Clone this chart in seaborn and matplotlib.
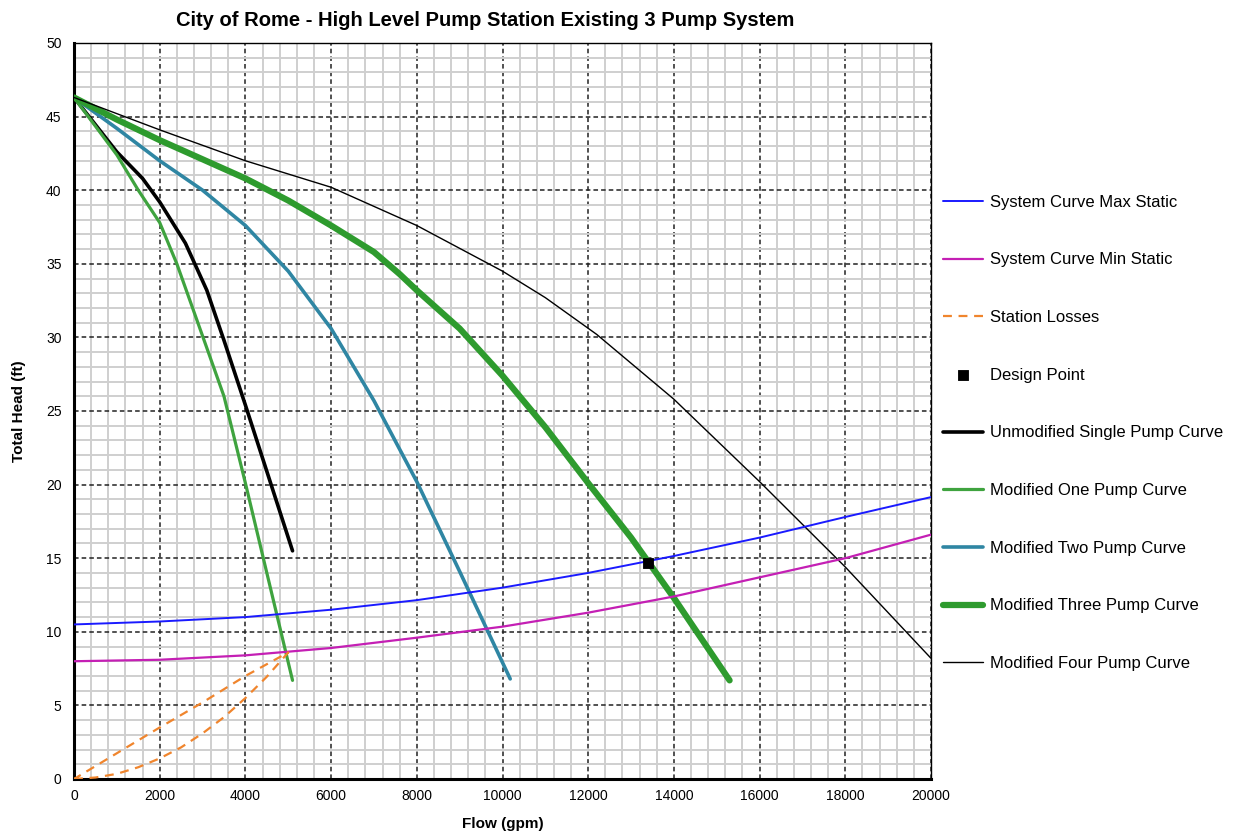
import numpy as np
import pandas as pd
import matplotlib
matplotlib.use("Agg")
import matplotlib.pyplot as plt
import seaborn as sns
from matplotlib.ticker import MultipleLocator

# Datos (caudal en gpm, altura en ft)
sys_x = [0, 2000, 4000, 6000, 8000, 10000, 12000, 14000, 16000, 18000, 20000]
sys_max_y = [10.5, 10.7, 11.0, 11.5, 12.15, 13.0, 14.0, 15.15, 16.4, 17.8, 19.15]
sys_min_y = [8.0, 8.1, 8.4, 8.9, 9.6, 10.35, 11.3, 12.4, 13.7, 15.0, 16.6]

losses_x = [0, 500, 1000, 1500, 2000, 2500, 3000, 3500, 4000, 4500, 5000,
            4000, 3000, 2000, 1000, 0]
losses_y = [0, 0.1, 0.35, 0.8, 1.4, 2.15, 3.1, 4.2, 5.5, 6.95, 8.6,
            7.0, 5.2, 3.5, 1.75, 0]

design_x = [13400]
design_y = [14.7]

single_x = [0, 1000, 1600, 2000, 2600, 3100, 3500, 4000, 4600, 5100]
single_y = [46.3, 42.6, 40.8, 39.2, 36.4, 33.2, 29.8, 25.4, 20.0, 15.5]

one_x = [0, 1000, 1500, 2000, 2400, 3000, 3500, 4000, 4500, 5100]
one_y = [46.3, 42.4, 40.0, 37.8, 35.0, 30.1, 26.0, 20.1, 14.0, 6.7]

two_x = [0, 1000, 2000, 3000, 4000, 5000, 6000, 7000, 8000, 9000, 10180]
two_y = [46.3, 44.2, 42.0, 40.0, 37.6, 34.5, 30.6, 25.7, 20.2, 14.1, 6.8]

three_x = [0, 1000, 2000, 3000, 4000, 5000, 6000, 7000, 7600, 8000, 9000,
           10000, 11000, 12000, 13000, 14000, 15300]
three_y = [46.3, 44.8, 43.4, 42.1, 40.8, 39.3, 37.6, 35.8, 34.3, 33.2, 30.6,
           27.4, 23.9, 20.1, 16.4, 12.3, 6.7]

four_x = [0, 2000, 4000, 6000, 8000, 10000, 11000, 12200, 14000, 16000, 18000, 20000]
four_y = [46.3, 44.1, 42.0, 40.2, 37.6, 34.5, 32.7, 30.2, 25.8, 20.2, 14.4, 8.2]

sns.set_style("white")
plt.rcParams['font.family'] = ['Liberation Sans', 'DejaVu Sans']
plt.rcParams['text.color'] = 'black'
plt.rcParams['axes.labelcolor'] = 'black'
plt.rcParams['xtick.color'] = 'black'
plt.rcParams['ytick.color'] = 'black'

fig = plt.figure(figsize=(12.34, 8.33), dpi=100)
ax = fig.add_axes([74 / 1234, 1 - 779 / 833, (931 - 74) / 1234, (779 - 43) / 833])


def linea(x, y, **kw):
    df = pd.DataFrame({'x': x, 'y': y})
    sns.lineplot(data=df, x='x', y='y', ax=ax, sort=False, estimator=None, **kw)


linea(sys_x, sys_max_y, color='#1a1aff', lw=1.4, label='System Curve Max Static', zorder=5)
linea(sys_x, sys_min_y, color='#c41fb4', lw=1.6, label='System Curve Min Static', zorder=5)
linea(losses_x, losses_y, color='#f0852d', lw=1.6, label='Station Losses', zorder=5)
ax.get_lines()[-1].set_dashes([4, 3])
sns.scatterplot(x=design_x, y=design_y, ax=ax, marker='s', s=60, color='black',
                edgecolor='black', label='Design Point', zorder=10)
linea(single_x, single_y, color='black', lw=2.6, label='Unmodified Single Pump Curve', zorder=4)
linea(one_x, one_y, color='#3fa33f', lw=2.3, label='Modified One Pump Curve', zorder=4)
linea(two_x, two_y, color='#2f86a3', lw=2.6, label='Modified Two Pump Curve', zorder=4)
linea(three_x, three_y, color='#2e9b2e', lw=4.5, label='Modified Three Pump Curve', zorder=4)
linea(four_x, four_y, color='black', lw=1.0, label='Modified Four Pump Curve', zorder=4)

ax.set_xlim(0, 20000)
ax.set_ylim(0, 50)
ax.xaxis.set_major_locator(MultipleLocator(2000))
ax.xaxis.set_minor_locator(MultipleLocator(400))
ax.yaxis.set_major_locator(MultipleLocator(5))
ax.yaxis.set_minor_locator(MultipleLocator(1))
ax.grid(which='minor', color='#cfcfcf', lw=1.4, ls='-', zorder=0)
ax.grid(which='major', color='#222222', lw=1.1, ls=(0, (3, 2)), zorder=1)
ax.set_axisbelow(True)
ax.tick_params(which='both', length=0, labelsize=10)
ax.tick_params(axis='x', pad=7)
ax.tick_params(axis='y', pad=9)

for s in ['left', 'bottom']:
    ax.spines[s].set_color('black')
    ax.spines[s].set_linewidth(2.2)
for s in ['top', 'right']:
    ax.spines[s].set_color('black')
    ax.spines[s].set_linewidth(1.0)

ax.set_xlabel('Flow (gpm)', fontsize=11, fontweight='bold', labelpad=10)
ax.set_ylabel('Total Head (ft)', fontsize=11, fontweight='bold', labelpad=14)

fig.text(485 / 1234, 1 - 21 / 833, 'City of Rome - High Level Pump Station Existing 3 Pump System',
         ha='center', va='center', fontsize=14.5, fontweight='bold',
         family=['Liberation Sans Narrow', 'Liberation Sans', 'DejaVu Sans'])

handles, labels = ax.get_legend_handles_labels()
ax.legend_.remove()
fig.legend(handles, labels, loc='upper left', bbox_to_anchor=(936 / 1234, 1 - 188 / 833),
           frameon=False, fontsize=12, labelspacing=2.56, handlelength=2.4,
           handletextpad=0.42, borderaxespad=0)

fig.savefig('out.png', dpi=100)
